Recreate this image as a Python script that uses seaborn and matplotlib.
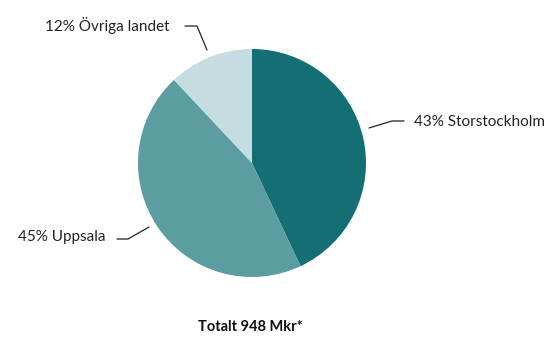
import matplotlib
matplotlib.use("Agg")
import matplotlib.pyplot as plt
import seaborn as sns
import numpy as np

labels = ["Storstockholm", "Uppsala", "Övriga landet"]
shares = [43, 45, 12]
colors = ["#136f74", "#5b9da0", "#c5dde0"]
title = "Totalt 948 Mkr*"

sns.set_theme(style="white")
plt.rcParams['font.family'] = ['Lato', 'DejaVu Sans']

W, H = 549, 338
fig = plt.figure(figsize=(W / 100, H / 100), dpi=100)
cx, cy, r = 252, 163, 114
ax = fig.add_axes([(cx - r) / W, (H - cy - r) / H, 2 * r / W, 2 * r / H])
ax.pie(shares, colors=colors, startangle=90, counterclock=False, radius=1,
       wedgeprops=dict(linewidth=0))
ax.set_xlim(-1, 1)
ax.set_ylim(-1, 1)
ax.set_aspect('equal')
ax.axis('off')

def px(x, y):
    return ((x - cx) / r, (cy - y) / r)

# leader lines (figure pixel positions converted to data units)
lines = {
    "Storstockholm": [px(369, 128), px(392, 121), px(404, 121)],
    "Uppsala": [px(149, 227), px(128, 239), px(117, 239)],
    "Övriga landet": [px(207, 50), px(197, 26), px(185, 26)],
}
texts = {
    "Storstockholm": (px(414, 121.5), 'left'),
    "Uppsala": (px(105, 237), 'right'),
    "Övriga landet": (px(169, 25), 'right'),
}
for lab, s in zip(labels, shares):
    pts = np.array(lines[lab])
    ax.plot(pts[:, 0], pts[:, 1], color="#222222", lw=0.9, clip_on=False)
    (tx, ty), ha = texts[lab]
    ax.text(tx, ty, f"{s}% {lab}", ha=ha, va='center', fontsize=11,
            color="#222222", clip_on=False)

fig.text(250 / W, 1 - 327 / H, title, ha='center', va='center',
         fontsize=10.5, fontweight='bold', color="#111111")

fig.savefig("out.png", dpi=100, facecolor="white")
